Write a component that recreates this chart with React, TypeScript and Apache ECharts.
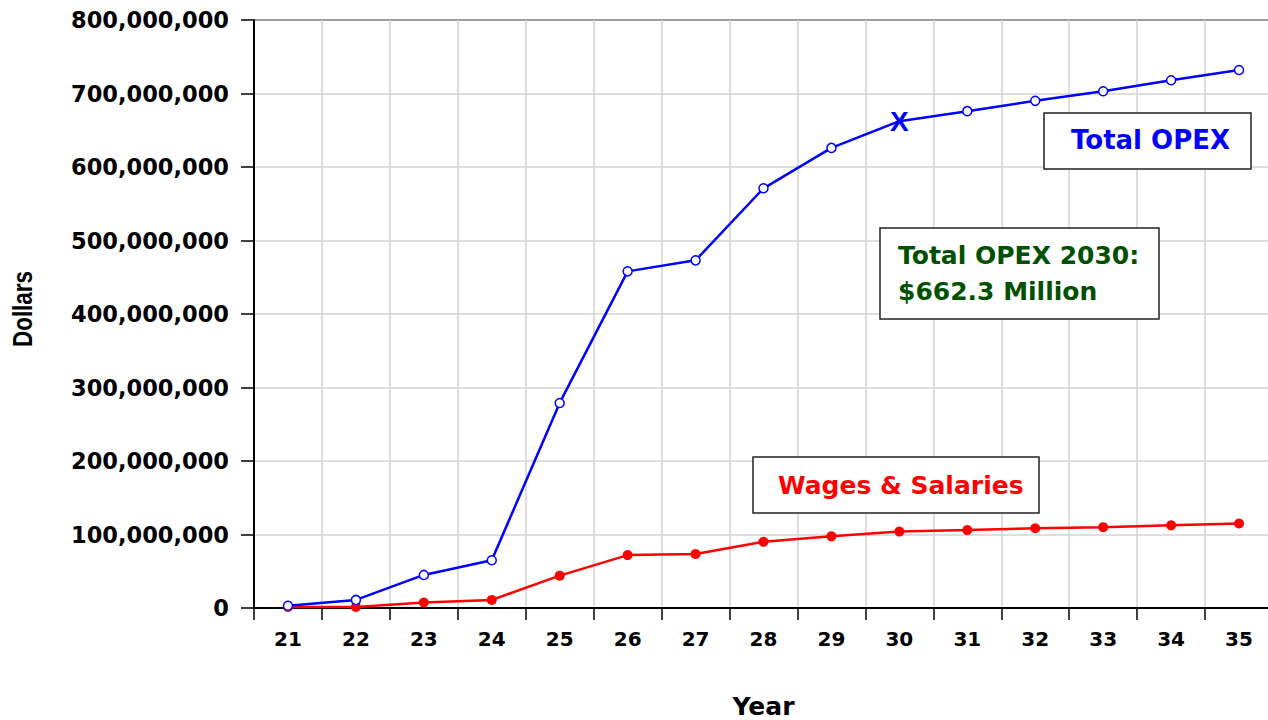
import React, { useEffect, useRef } from "react";
import * as echarts from "echarts";

const years = ["21", "22", "23", "24", "25", "26", "27", "28", "29", "30", "31", "32", "33", "34", "35"];
const totalOpex = [3e6, 11e6, 45e6, 65e6, 279e6, 458e6, 473e6, 571e6, 626e6, 662.3e6, 676e6, 690e6, 703e6, 718e6, 732e6];
const wagesSalaries = [1.5e6, 1.5e6, 7.5e6, 11e6, 44e6, 72e6, 73.5e6, 90e6, 97.5e6, 104e6, 106e6, 108.5e6, 110e6, 112.5e6, 115e6];
const highlightYear = "30";
const yTicks = { min: 0, max: 800000000, interval: 100000000 };

const fmt = (v: number) => String(Math.round(v)).replace(/\B(?=(\d{3})+(?!\d))/g, ",");
const LBL = "DejaVu Sans";

export default function App() {
  const ref = useRef<HTMLDivElement>(null);
  useEffect(() => {
    if (!ref.current) return;
    const chart = echarts.init(ref.current, undefined, { renderer: "svg" });
    const opexData = totalOpex.map((v, i) =>
      years[i] === highlightYear
        ? {
            value: v,
            symbolSize: 1,
            itemStyle: { color: "rgba(0,0,0,0)", borderWidth: 0 },
            label: {
              show: true,
              position: "inside",
              formatter: "X",
              color: "#0000ff",
              fontSize: 28,
              fontWeight: "bold",
              fontFamily: "Liberation Sans",
            },
          }
        : v
    );
    chart.setOption({
      animation: false,
      backgroundColor: "#ffffff",
      grid: {
        left: 254,
        top: 20,
        right: 0,
        height: 588,
        show: true,
        borderColor: "#000",
        borderWidth: 2,
        containLabel: false,
        outerBoundsMode: "none",
      },
      xAxis: {
        type: "category",
        data: years,
        boundaryGap: true,
        name: "Year",
        nameLocation: "middle",
        nameGap: 86,
        nameTextStyle: { fontFamily: LBL, fontWeight: "bold", fontSize: 25, color: "#000" },
        axisLine: { show: true, lineStyle: { color: "#000", width: 2 } },
        axisTick: { show: true, length: 12, alignWithLabel: false, lineStyle: { color: "#000", width: 1.5 } },
        axisLabel: { fontFamily: LBL, fontWeight: "bold", fontSize: 20, color: "#000", margin: 21 },
        splitLine: { show: true, lineStyle: { color: "#d3d3d3", width: 1.5 } },
      },
      yAxis: {
        type: "value",
        min: yTicks.min,
        max: yTicks.max,
        interval: yTicks.interval,
        axisLine: { show: true, lineStyle: { color: "#000", width: 2 } },
        axisTick: { show: true, length: 13, lineStyle: { color: "#000", width: 1.5 } },
        axisLabel: {
          fontFamily: LBL,
          fontWeight: "bold",
          fontSize: 22.5,
          color: "#000",
          margin: 25,
          formatter: (v: number) => fmt(v),
        },
        splitLine: { show: true, lineStyle: { color: "#d3d3d3", width: 1.5 } },
      },
      series: [
        {
          name: "Total OPEX",
          type: "line",
          data: opexData,
          symbol: "circle",
          symbolSize: 9,
          lineStyle: { color: "#0000ff", width: 2.5 },
          itemStyle: { color: "#ffffff", borderColor: "#0000ff", borderWidth: 1.5 },
          z: 3,
        },
        {
          name: "Wages & Salaries",
          type: "line",
          data: wagesSalaries,
          symbol: "circle",
          symbolSize: 10,
          lineStyle: { color: "#ff0000", width: 2.5 },
          itemStyle: { color: "#ff0000" },
          z: 2,
        },
      ],
      graphic: [
        {
          type: "text",
          x: 23,
          y: 309,
          rotation: Math.PI / 2,
          scaleX: 0.83,
          style: {
            text: "Dollars",
            fill: "#000",
            font: 'bold 27px "Liberation Sans"',
            textAlign: "center",
            align: "center",
            textVerticalAlign: "middle",
            verticalAlign: "middle",
          },
        },
        {
          type: "rect",
          shape: { x: 1044, y: 113, width: 207, height: 56 },
          style: { fill: "#ffffff", stroke: "#222", lineWidth: 1.5 },
          z: 10,
        },
        {
          type: "text",
          x: 1071,
          y: 140,
          style: {
            text: "Total OPEX",
            fill: "#0000ff",
            font: `bold 26px "${LBL}"`,
            textVerticalAlign: "middle",
            verticalAlign: "middle",
          },
          z: 11,
        },
        {
          type: "rect",
          shape: { x: 880, y: 228, width: 279, height: 91 },
          style: { fill: "#ffffff", stroke: "#222", lineWidth: 1.5 },
          z: 10,
        },
        {
          type: "text",
          x: 898,
          y: 255,
          style: {
            text: "Total OPEX 2030:",
            fill: "#005000",
            font: `bold 25px "${LBL}"`,
            textVerticalAlign: "middle",
            verticalAlign: "middle",
          },
          z: 11,
        },
        {
          type: "text",
          x: 898,
          y: 291,
          style: {
            text: "$662.3 Million",
            fill: "#005000",
            font: `bold 25px "${LBL}"`,
            textVerticalAlign: "middle",
            verticalAlign: "middle",
          },
          z: 11,
        },
        {
          type: "rect",
          shape: { x: 753, y: 457, width: 286, height: 56 },
          style: { fill: "#ffffff", stroke: "#222", lineWidth: 1.5 },
          z: 10,
        },
        {
          type: "text",
          x: 778,
          y: 485,
          style: {
            text: "Wages & Salaries",
            fill: "#ff0000",
            font: `bold 25px "${LBL}"`,
            textVerticalAlign: "middle",
            verticalAlign: "middle",
          },
          z: 11,
        },
      ],
    });
    return () => chart.dispose();
  }, []);
  return (
    <div
      ref={ref}
      style={{ position: "fixed", left: 0, top: 0, width: 1273, height: 720, background: "#fff" }}
    />
  );
}
